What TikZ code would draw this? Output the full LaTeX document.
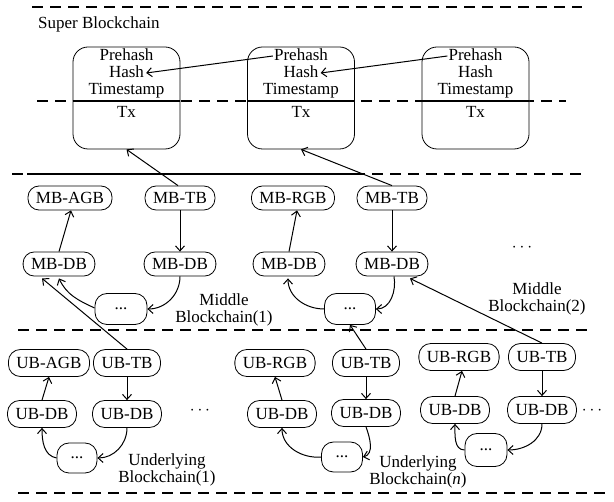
\documentclass[tikz,border=0pt]{standalone}
\usepackage{fontspec}
\setmainfont{Liberation Serif}
\usetikzlibrary{arrows.meta,calc}
\begin{document}
\begin{tikzpicture}[x=1pt,y=1pt,
  font=\fontsize{17}{16.5}\selectfont,
  every node/.style={inner sep=0pt},
  sep/.style={line width=1.2pt,dash pattern=on 11pt off 7pt},
  sbox/.style={draw,line width=0.8pt,rounded corners=15pt,minimum width=107pt,minimum height=102pt},
  field/.style={text height=11pt,text depth=2pt},
  blk/.style={draw,line width=0.8pt,rounded corners=11pt,inner xsep=8pt,minimum height=24pt},
  ublk/.style={blk,minimum height=27pt,rounded corners=12pt},
  dotsbox/.style={draw,line width=0.8pt,rounded corners=12pt,minimum width=#1,minimum height=31pt},
  lbl/.style={align=center},
  arr/.style={line width=1pt,-{Straight Barb[length=5pt,width=9pt,line width=1pt]}}
]
\useasboundingbox (0,0) rectangle (614,-502);

% layer separators
\draw[sep] (32,-7) -- (582,-7);
\draw[sep] (37,-101) -- (566,-101);
\draw[sep] (12,-174) -- (586,-174);
\draw[line width=1.2pt] (27,-174) -- (360,-174);
\draw[sep] (18,-330) -- (590,-330);
\draw[sep] (18,-493) -- (612,-493);

% super blockchain
\node[anchor=west] (title) at (38,-24) {Super Blockchain};
\foreach \i/\x in {1/126.5,2/301,3/475.5}{
  \node[sbox,fill=white] (s\i) at (\x,-98) {};
  \draw[line width=1.2pt] ($(s\i.west)+(0,-3)$) -- ($(s\i.east)+(0,-3)$);
  \node[field] (p\i) at (\x,-56) {Prehash};
  \node[field] (h\i) at (\x,-73) {Hash};
  \node[field] (t\i) at (\x,-90) {Timestamp};
  \node[field] (x\i) at (\x,-113) {Tx};
}
\draw[arr] ($(p2.west)+(-1,0)$) -- ($(h1.east)+(2,0)$);
\draw[arr] ($(p3.west)+(-1,0)$) -- ($(h2.east)+(2,0)$);

% middle blockchains
\node[blk] (mbagb) at (70,-198) {MB-AGB};
\node[blk] (mbtba) at (180,-198) {MB-TB};
\node[blk] (mbrgb) at (293,-198) {MB-RGB};
\node[blk] (mbtbb) at (392,-198) {MB-TB};
\node[blk] (mbdba) at (59,-264) {MB-DB};
\node[blk] (mbdbb) at (180,-264) {MB-DB};
\node[blk] (mbdbc) at (289,-264) {MB-DB};
\node[blk] (mbdbd) at (392,-264) {MB-DB};
\node[dotsbox=52pt] (mdotsa) at (121,-309) {...};
\node[dotsbox=51pt] (mdotsb) at (350,-309) {...};
\node[lbl] (mlbla) at (224,-310) {Middle\\Blockchain(1)};
\node[lbl] (mlblb) at (537,-299) {Middle\\Blockchain(2)};
\node (mmore) at (522,-248) {$\cdots$};

% underlying blockchains
\node[ublk] (ubagb) at (49,-363) {UB-AGB};
\node[ublk] (ubtba) at (127,-363) {UB-TB};
\node[ublk] (ubrgba) at (275,-363) {UB-RGB};
\node[ublk] (ubtbb) at (366,-363) {UB-TB};
\node[ublk] (ubrgbb) at (459,-357) {UB-RGB};
\node[ublk] (ubtbc) at (542,-357) {UB-TB};
\node[ublk] (ubdba) at (42,-414) {UB-DB};
\node[ublk] (ubdbb) at (127,-414) {UB-DB};
\node[ublk] (ubdbc) at (282,-414) {UB-DB};
\node[ublk] (ubdbd) at (366,-413) {UB-DB};
\node[ublk] (ubdbe) at (455,-410) {UB-DB};
\node[ublk] (ubdbf) at (542,-410) {UB-DB};
\node[dotsbox=40pt,minimum height=30pt] (udotsa) at (77,-458) {...};
\node[dotsbox=41pt,minimum height=30pt] (udotsb) at (342,-457) {...};
\node[dotsbox=42pt,minimum height=33pt] (udotsc) at (486,-450) {...};
\node[lbl] (ulbla) at (167,-470) {Underlying\\Blockchain(1)};
\node[lbl] (ulblb) at (418,-472) {Underlying\\Blockchain(\textit{n})};
\node (umorea) at (200,-411) {$\cdots$};
\node (umoreb) at (592,-411) {$\cdots$};

% links to the super blockchain
\draw[arr] ($(mbtba.north)+(-2,0)$) -- (s1.south);
\draw[arr] (mbtbb.north) -- (s2.south);

% middle chain 1
\draw[arr] (mbdba.north) -- ($(mbagb.south)+(1,0)$);
\draw[arr] (mbtba.south) -- (mbdbb.north);
\draw[arr] (mbdbb.south) to[out=-90,in=0] (mdotsa.east);
\draw[arr] ($(mdotsa.west)+(0,1)$) to[out=155,in=-65] ($(mbdba.south)+(0,-2)$);
% middle chain 2
\draw[arr] (mbdbc.north) -- ($(mbrgb.south)+(4,0)$);
\draw[arr] (mbtbb.south) -- (mbdbd.north);
\draw[arr] ($(mbdbd.south)+(2,0)$) to[out=-80,in=0] (mdotsb.east);
\draw[arr] (mdotsb.west) to[out=180,in=-90] ($(mbdbc.south)+(-1,-2)$);

% links from underlying to middle chains
\draw[arr] (ubtba.north) -- ($(mbdba.south)+(-17,-2)$);
\draw[arr] (ubtbb.north) -- (mdotsb.south);
\draw[arr] (ubtbc.north) -- ($(mbdbd.south)+(18,-2)$);

% underlying chain 1
\draw[arr] (ubdba.north) -- (ubagb.south);
\draw[arr] (ubtba.south) -- (ubdbb.north);
\draw[arr] (ubdbb.south) to[out=-90,in=0] (udotsa.east);
\draw[arr] (udotsa.west) to[out=170,in=-90] (ubdba.south);
% underlying chain n
\draw[arr] (ubdbc.north) -- (ubrgba.south);
\draw[arr] (ubtbb.south) -- (ubdbd.north);
\draw[arr] (ubdbd.south) to[out=-70,in=15] (udotsb.east);
\draw[arr] (udotsb.west) to[out=185,in=-90] (ubdbc.south);
% further underlying chain
\draw[arr] (ubdbe.north) -- ($(ubrgbb.south)+(3,0)$);
\draw[arr] (ubtbc.south) -- (ubdbf.north);
\draw[arr] (ubdbf.south) to[out=-90,in=0] (udotsc.east);
\draw[arr] (udotsc.west) to[out=180,in=-90] (ubdbe.south);
\end{tikzpicture}
\end{document}
